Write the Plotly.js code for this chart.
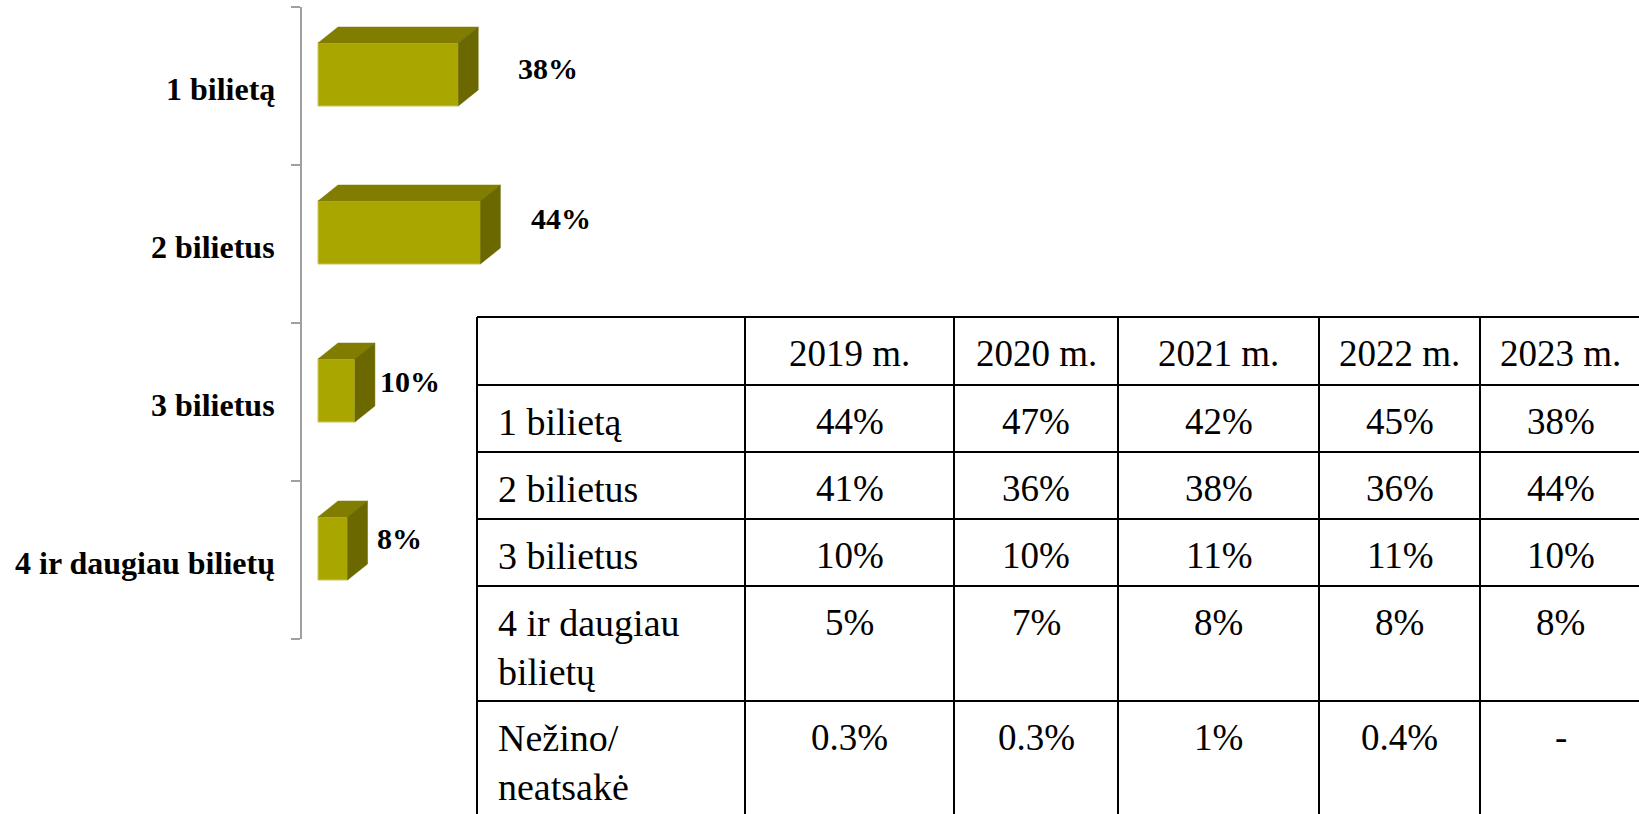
<!DOCTYPE html>
<html><head><meta charset="utf-8">
<script src="https://cdn.plot.ly/plotly-3.0.1.min.js"></script>
<style>html,body{margin:0;padding:0;background:#fff;overflow:hidden}
#chart{width:1639px;height:814px}</style></head>
<body><div id="chart"></div>
<script>
// ---- data ----
const categories = ['1 bilietą', '2 bilietus', '3 bilietus', '4 ir daugiau bilietų'];
const shares2023Chart = [38, 44, 10, 8];
const tableHeader = ['', '2019 m.', '2020 m.', '2021 m.', '2022 m.', '2023 m.'];
const tableRowLabels = ['1 bilietą', '2 bilietus', '3 bilietus', '4 ir daugiau<br>bilietų', 'Nežino/<br>neatsakė'];
const share2019 = [44, 41, 10, 5, 0.3];
const share2020 = [47, 36, 10, 7, 0.3];
const share2021 = [42, 38, 11, 8, 1];
const share2022 = [45, 36, 11, 8, 0.4];
const share2023 = [38, 44, 10, 8, null];

// ---- layout constants (pixels) ----
const W = 1639, H = 814;
const AXIS_X = 302, PLOT_TOP = 7, PLOT_BOTTOM = 639;
const BAR_START = 318, PX_PER_PCT = 3.69;
const FRONT_UP = 43, FRONT_DOWN = 20;   // front face extent around category centre
const DEPTH_X = 20, DEPTH_Y = 16;
const labelGap = [38, 29, 3, 7];
const labelRise = [17.5, 26, 21, 21.5];
// table geometry
const TABLE_LEFT = 477, TABLE_TOP = 317;
const colWidths = [268, 209, 164, 201, 161, 161];
const rowHeights = [68, 67, 67, 67, 115, 115];
const TEXT_TOP = 14, FIRST_COL_PAD = 19;
const SERIF = 'Liberation Serif, Times New Roman, serif';
const ROW_LABEL_SIZE = 38, CELL_SIZE = 37;

const nCat = categories.length;
const catPx = (PLOT_BOTTOM - PLOT_TOP) / nCat;
const x0 = -(BAR_START - AXIS_X) / PX_PER_PCT;
const x1 = x0 + (W - AXIS_X) / PX_PER_PCT;
const dX = DEPTH_X / PX_PER_PCT, dY = DEPTH_Y / catPx;
const centers = categories.map((c, i) => nCat - 0.5 - i);
const frontTop = centers.map(c => c + FRONT_UP / catPx);
const frontBot = centers.map(c => c - FRONT_DOWN / catPx);

const FRONT = '#aaa600', TOP = '#807d00', SIDE = '#6b6800';

const traces = [];
shares2023Chart.forEach((v, i) => {
  traces.push({type: 'scatter', mode: 'lines', x: [0, v, v + dX, dX, 0],
    y: [frontTop[i], frontTop[i], frontTop[i] + dY, frontTop[i] + dY, frontTop[i]],
    fill: 'toself', fillcolor: TOP, line: {width: 0.5, color: TOP}, hoverinfo: 'skip', showlegend: false});
  traces.push({type: 'scatter', mode: 'lines', x: [v, v, v + dX, v + dX, v],
    y: [frontBot[i], frontTop[i], frontTop[i] + dY, frontBot[i] + dY, frontBot[i]],
    fill: 'toself', fillcolor: SIDE, line: {width: 0.5, color: SIDE}, hoverinfo: 'skip', showlegend: false});
});
traces.push({type: 'bar', orientation: 'h', x: shares2023Chart,
  y: centers.map((c, i) => (frontTop[i] + frontBot[i]) / 2),
  width: (FRONT_UP + FRONT_DOWN) / catPx, base: 0,
  marker: {color: FRONT, line: {color: '#c9c55a', width: 1}}, hoverinfo: 'skip', showlegend: false});

const annotations = [];
categories.forEach((c, i) => {
  annotations.push({xref: 'paper', yref: 'y', x: 277 / W, y: centers[i], xanchor: 'right', yanchor: 'middle',
    yshift: -3, text: c, showarrow: false, font: {family: SERIF, size: 32, color: '#000', weight: 700}});
});
shares2023Chart.forEach((v, i) => {
  annotations.push({xref: 'x', yref: 'y', x: v, y: centers[i], xanchor: 'left', yanchor: 'middle',
    xshift: DEPTH_X + labelGap[i], yshift: labelRise[i],
    text: v + '%', showarrow: false, font: {family: SERIF, size: 30, color: '#000', weight: 700}});
});

// ---- table: grid lines and cell texts ----
const fmt = arr => arr.map(v => v === null ? '-' : v + '%');
const columns = [tableRowLabels, fmt(share2019), fmt(share2020), fmt(share2021), fmt(share2022), fmt(share2023)];
const colEdges = [TABLE_LEFT];
colWidths.forEach(w => colEdges.push(colEdges[colEdges.length - 1] + w));
const rowEdges = [TABLE_TOP];
rowHeights.forEach(h => rowEdges.push(rowEdges[rowEdges.length - 1] + h));
const px = x => x / W, py = y => 1 - y / H;

const shapes = [];
colEdges.forEach(x => shapes.push({type: 'line', xref: 'paper', yref: 'paper',
  x0: px(x), x1: px(x), y0: py(rowEdges[0]), y1: py(rowEdges[rowEdges.length - 1]),
  line: {color: '#000', width: 2}}));
rowEdges.forEach(y => shapes.push({type: 'line', xref: 'paper', yref: 'paper',
  x0: px(colEdges[0]) , x1: px(colEdges[colEdges.length - 1]), y0: py(y), y1: py(y),
  line: {color: '#000', width: 2}}));

columns.forEach((col, c) => {
  const rows = [tableHeader[c]].concat(col);
  rows.forEach((t, r) => {
    if (t === '') return;
    const first = c === 0;
    annotations.push({xref: 'paper', yref: 'paper',
      x: px(first ? colEdges[c] + FIRST_COL_PAD : (colEdges[c] + colEdges[c + 1]) / 2),
      y: py(rowEdges[r] + TEXT_TOP), xanchor: first ? 'left' : 'center', yanchor: 'top',
      align: first ? 'left' : 'center', text: t, showarrow: false,
      font: {family: SERIF, size: first ? ROW_LABEL_SIZE : CELL_SIZE, color: '#000'}});
  });
});

const layout = {
  width: W, height: H, margin: {l: 0, r: 0, t: 0, b: 0},
  paper_bgcolor: '#fff', plot_bgcolor: 'rgba(0,0,0,0)', showlegend: false,
  xaxis: {domain: [AXIS_X / W, 1], range: [x0, x1], visible: false, fixedrange: true},
  yaxis: {domain: [1 - PLOT_BOTTOM / H, 1 - PLOT_TOP / H], range: [0, nCat], showgrid: false, zeroline: false,
    showline: true, linecolor: '#a0a0a0', linewidth: 2, ticks: 'outside', ticklen: 9, tickwidth: 2,
    tickcolor: '#a0a0a0', tickvals: [0, 1, 2, 3, 4], showticklabels: false, fixedrange: true},
  annotations: annotations, shapes: shapes
};
Plotly.newPlot('chart', traces, layout, {displayModeBar: false, staticPlot: true});
</script></body></html>
